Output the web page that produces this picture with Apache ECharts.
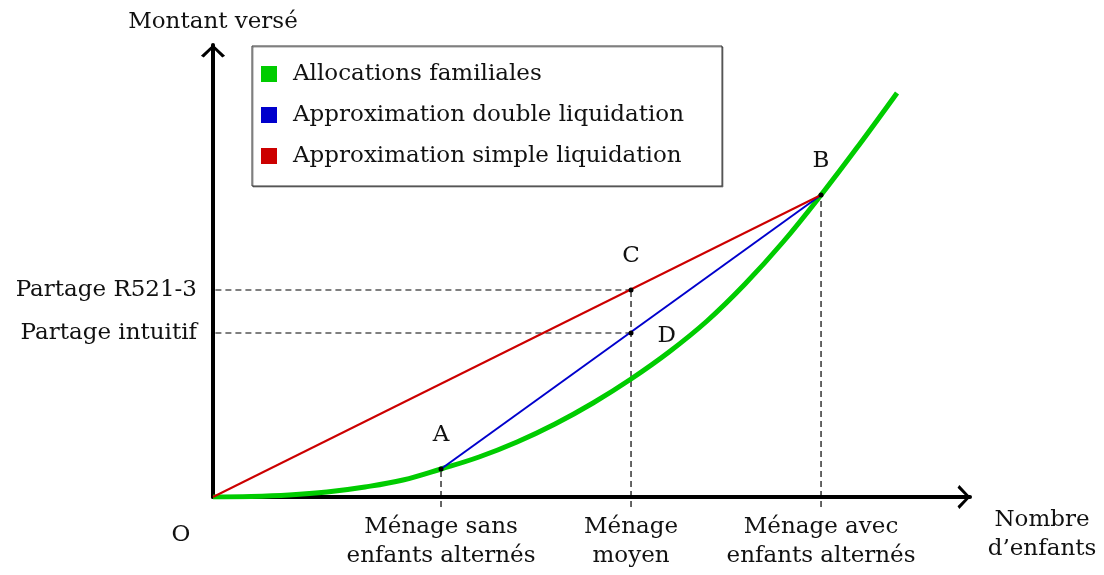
<!DOCTYPE html>
<html>
<head>
<meta charset="utf-8">
<script src="https://cdn.jsdelivr.net/npm/echarts@6/dist/echarts.min.js"></script>
<style>
  html, body { margin: 0; padding: 0; background: #fff; }
  #main { width: 1104px; height: 575px; }
</style>
</head>
<body>
<div id="main"></div>
<script>
// courbe des allocations familiales
const curveX = [0, 2, 4, 6, 8, 10, 12, 14, 16, 18, 20, 22, 24, 26, 28, 30, 32, 34, 36];
const curveY = [0, 0.05, 0.2, 0.5, 1.0, 1.7, 2.8, 4.0, 5.5, 7.3, 9.4, 11.8, 14.5, 17.6, 21.3, 25.5, 30.2, 35.2, 40.4];

// points remarquables
const pointNames = ['A', 'B', 'C', 'D'];
const pointX = [12, 32, 22, 22];
const pointY = [2.8, 30.2, 20.7, 16.4];

// graduations
const xTickValues = [12, 22, 32];
const xTickLabels = ['Ménage sans\nenfants alternés', 'Ménage\nmoyen', 'Ménage avec\nenfants alternés'];
const yTickValues = [16.4, 20.7];
const yTickLabels = ['Partage intuitif', 'Partage R521-3'];

const seriesNames = ['Allocations familiales', 'Approximation double liquidation', 'Approximation simple liquidation'];

const FONT = 'DejaVu Serif';
const FS = 23;
const TXT = '#111';
// flèche ouverte en bout d'axe (pointe vers le haut, tournée par echarts)
const chevron = 'path://M0,12 L13,0 L26,12 L23,14 L13,4 L3,14 Z';

const chart = echarts.init(document.getElementById('main'), null, { renderer: 'canvas' });

const pt = i => [pointX[i], pointY[i]];

// lignes pointillées de rappel (A, C, B vers l'axe x ; C, D vers l'axe y)
const guides = [
  [[pointX[0], -1], pt(0)],
  [[pointX[2], -1], pt(2)],
  [[pointX[1], -1], pt(1)],
  [[-0.4, pointY[2]], pt(2)],
  [[-0.4, pointY[3]], pt(3)]
].map(d => ({
  type: 'line',
  data: d,
  showSymbol: false,
  silent: true,
  clip: false,
  z: 1,
  lineStyle: { color: '#000', width: 1.2, type: [6, 4] }
}));

const labelStyle = { color: TXT, fontSize: FS, fontFamily: FONT };

const option = {
  animation: false,
  textStyle: { fontFamily: FONT },
  grid: { left: 213, right: 134, top: 45, bottom: 78 },
  legend: {
    data: seriesNames,
    orient: 'vertical',
    left: 252,
    top: 46,
    icon: 'rect',
    itemWidth: 16,
    itemHeight: 16,
    itemGap: 17,
    padding: [16, 38, 18, 9],
    backgroundColor: '#fff',
    borderColor: '#333',
    borderWidth: 1,
    shadowColor: 'rgba(0,0,0,0.4)',
    shadowOffsetX: 1,
    shadowOffsetY: 1,
    textStyle: { color: TXT, fontSize: FS, fontFamily: FONT, lineHeight: 24, padding: [0, 0, 0, 11] }
  },
  xAxis: {
    type: 'value',
    min: 0,
    max: 39.84,
    name: 'Nombre\nd\u2019enfants',
    nameLocation: 'end',
    nameGap: 72,
    nameTextStyle: { color: TXT, fontSize: FS, fontFamily: FONT, align: 'center', verticalAlign: 'top', lineHeight: 29, padding: [9, 0, 0, 0] },
    splitLine: { show: false },
    axisTick: { show: false },
    axisLine: {
      onZero: false,
      symbol: ['none', chevron],
      symbolSize: [26, 13],
      symbolOffset: [0, -6],
      lineStyle: { color: '#000', width: 4 }
    },
    axisLabel: {
      customValues: xTickValues,
      formatter: v => xTickLabels[xTickValues.indexOf(v)],
      color: TXT,
      fontSize: FS,
      fontFamily: FONT,
      lineHeight: 29,
      margin: 16
    }
  },
  yAxis: {
    type: 'value',
    min: 0,
    max: 45.2,
    name: 'Montant versé',
    nameLocation: 'end',
    nameGap: 11,
    nameTextStyle: { color: TXT, fontSize: FS, fontFamily: FONT, align: 'center' },
    splitLine: { show: false },
    axisTick: { show: false },
    axisLine: {
      onZero: false,
      symbol: ['none', chevron],
      symbolSize: [26, 13],
      symbolOffset: [0, -6],
      lineStyle: { color: '#000', width: 4 }
    },
    axisLabel: {
      customValues: yTickValues,
      formatter: v => yTickLabels[yTickValues.indexOf(v)],
      color: TXT,
      fontSize: FS,
      fontFamily: FONT,
      margin: 16
    }
  },
  series: [
    ...guides,
    {
      name: seriesNames[0],
      type: 'line',
      data: curveX.map((x, i) => [x, curveY[i]]),
      smooth: 0.4,
      showSymbol: false,
      z: 3,
      color: '#00cc00',
      lineStyle: { color: '#00cc00', width: 5 }
    },
    {
      name: seriesNames[1],
      type: 'line',
      data: [pt(0), pt(1)],
      showSymbol: false,
      z: 4,
      color: '#0000cc',
      lineStyle: { color: '#0000cc', width: 2 }
    },
    {
      name: seriesNames[2],
      type: 'line',
      data: [[0, 0], pt(1)],
      showSymbol: false,
      z: 4,
      color: '#cc0000',
      lineStyle: { color: '#cc0000', width: 2 }
    },
    {
      type: 'scatter',
      silent: true,
      clip: false,
      z: 6,
      symbolSize: 5,
      itemStyle: { color: '#000', opacity: 1 },
      label: { show: true, formatter: '{b}', ...labelStyle },
      data: [
        { name: pointNames[0], value: pt(0), label: { position: 'top', distance: 20 } },
        { name: pointNames[1], value: pt(1), label: { position: 'top', distance: 20 } },
        { name: pointNames[2], value: pt(2), label: { position: 'top', distance: 20 } },
        { name: pointNames[3], value: pt(3), label: { position: 'right', distance: 24, offset: [0, 3] } },
        { name: 'O', value: [0, 0], symbolSize: 0, label: { position: 'inside', offset: [-32, 38] } }
      ]
    }
  ]
};

chart.setOption(option);
</script>
</body>
</html>
